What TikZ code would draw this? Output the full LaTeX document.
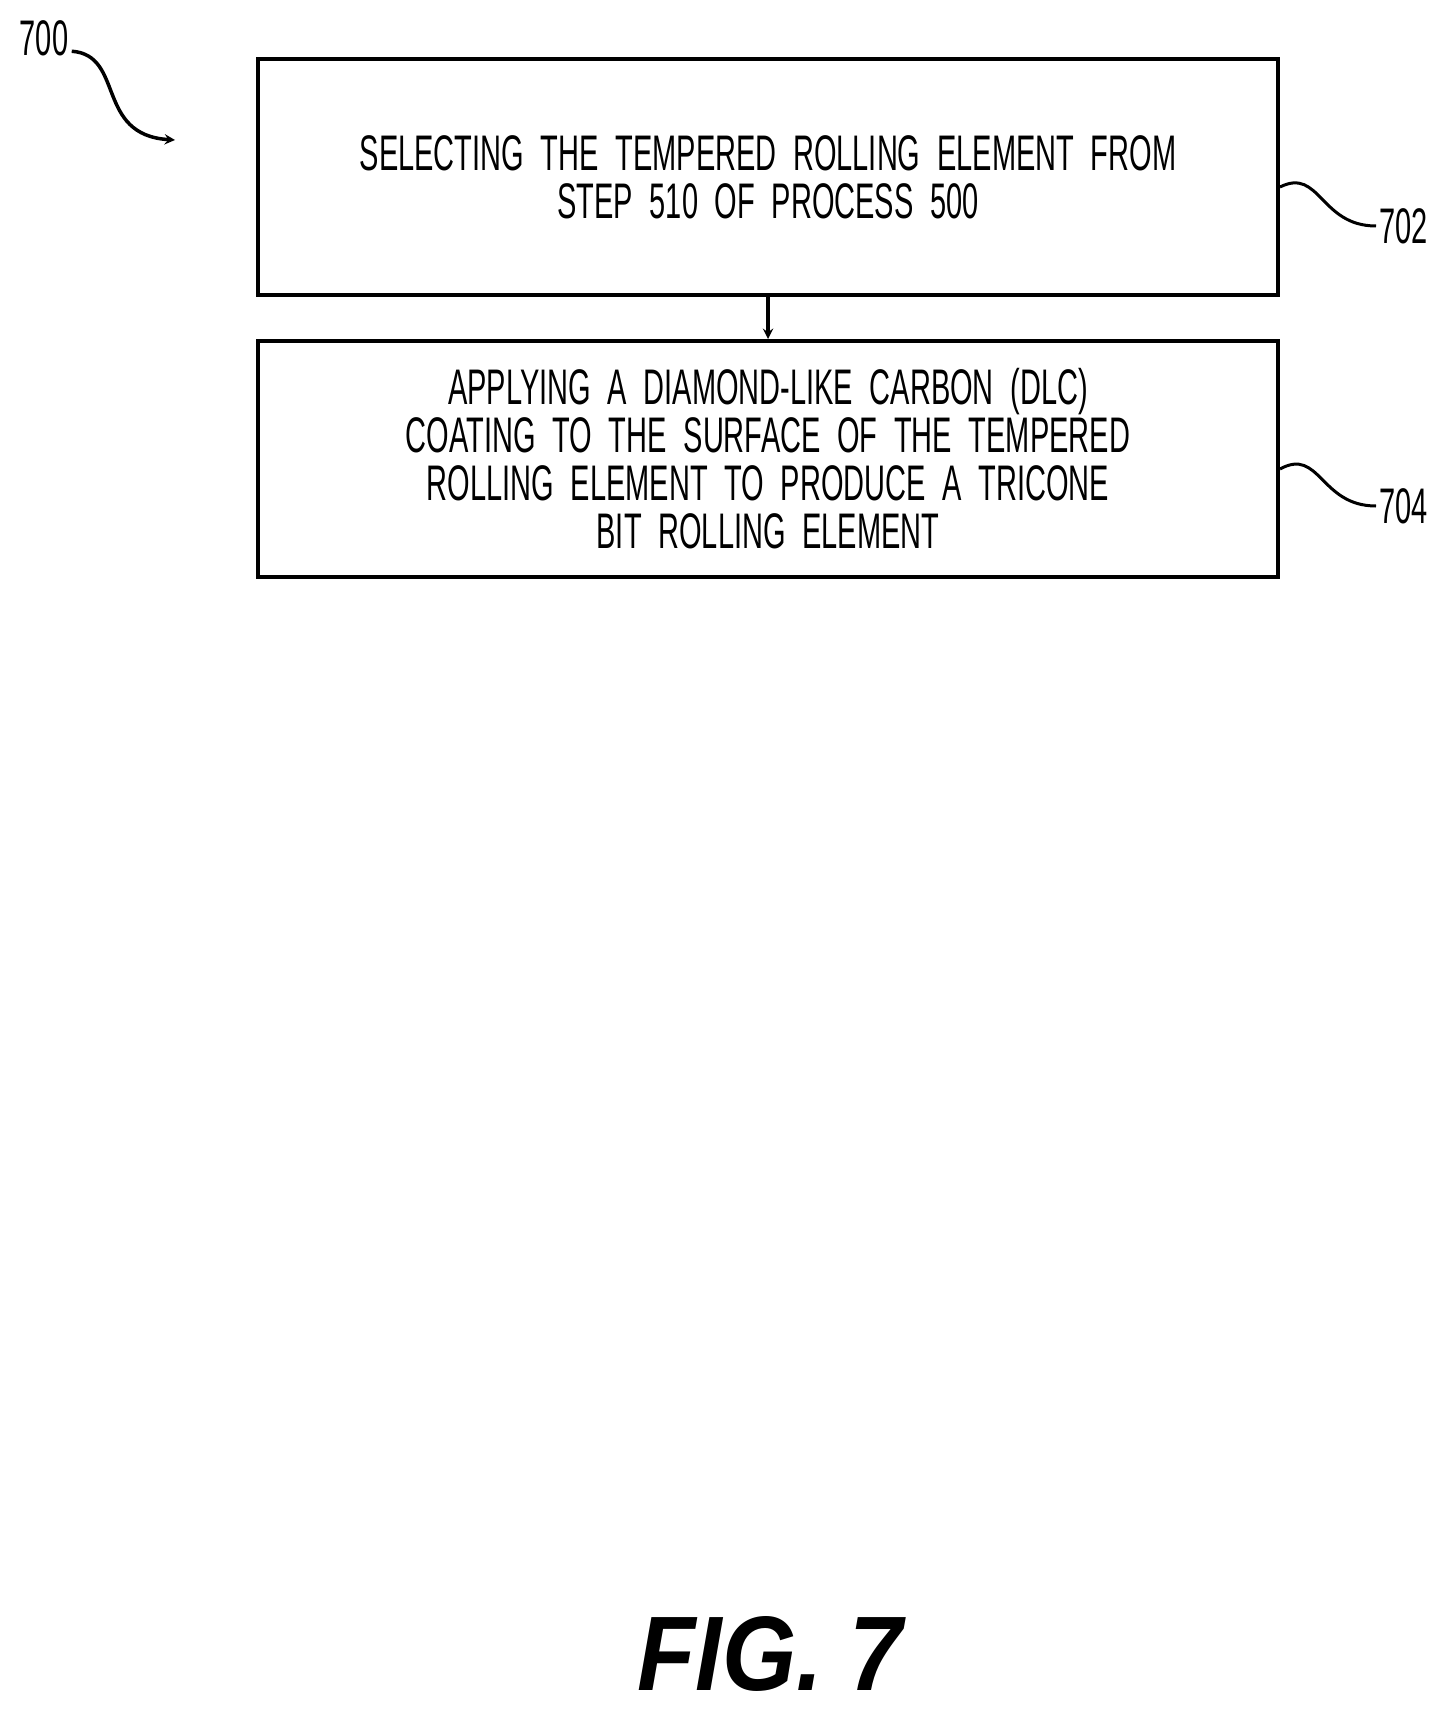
\documentclass[tikz,border=0pt]{standalone}
\usepackage{fontspec}
\setmainfont{Liberation Sans}[FakeStretch=0.58, WordSpace=0.45]
\newfontfamily\figfont{Liberation Sans}[FakeStretch=0.9]
\usetikzlibrary{arrows, calc, positioning}
\tikzstyle{process} = [rectangle, line width=4pt, minimum width=1020pt, minimum height=236pt, text width=1000pt, align=center, draw=black, font=\fontsize{50}{48}\selectfont]
\tikzstyle{ref} = [font=\fontsize{50}{50}\selectfont]
\tikzstyle{lead} = [line width=3pt]
\tikzstyle{arrow} = [line width=3.5pt,->,>=stealth]
\begin{document}
\begin{tikzpicture}[x=1pt, y=1pt, node distance = 42pt]
	\useasboundingbox (0,0) rectangle (1450,-1712);
	\node (Select) [process] at (768,-177) {SELECTING THE TEMPERED ROLLING ELEMENT FROM\\STEP 510 OF PROCESS 500};
	\node (Coat) [process, below = of Select] {APPLYING A DIAMOND-LIKE CARBON (DLC)\\COATING TO THE SURFACE OF THE TEMPERED\\ROLLING ELEMENT TO PRODUCE A TRICONE\\BIT ROLLING ELEMENT};
	\node (Num700) [ref] at (44,-38) {700};
	\node (Num702) [ref, anchor=west] at (1376,-226) {702};
	\node (Num704) [ref, anchor=west] at (1376,-506) {704};
	\node (Fig) [font=\figfont\fontsize{106}{106}\selectfont\bfseries\itshape] at (770,-1654) {FIG. 7};
	\coordinate (Tip700) at (175,-140);
	\draw [arrow] (Select) -- (Coat);
	\draw [lead] ($(Select.east)+(0,-10)$) .. controls (1320,-167) and (1320,-226) .. (Num702.west);
	\draw [lead] ($(Coat.east)+(0,-10)$) .. controls (1320,-447) and (1320,-506) .. (Num704.west);
	\draw [arrow] ($(Num700.south east)+(0,8)$) .. controls (125,-55) and (95,-135) .. (Tip700);
\end{tikzpicture}
\end{document}
